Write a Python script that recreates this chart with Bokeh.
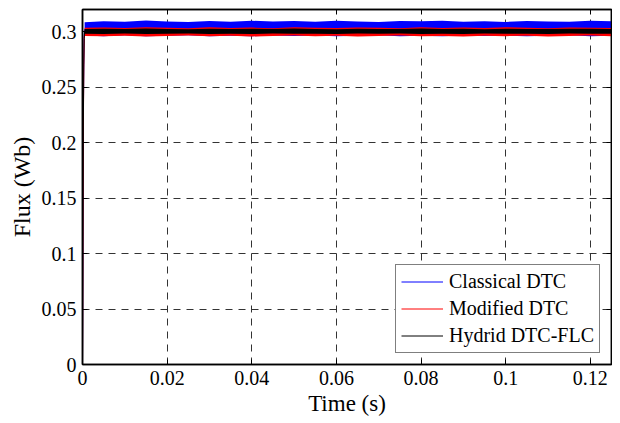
from bokeh.plotting import figure
from bokeh.models import Range1d, LinearAxis, Legend, LegendItem, FixedTicker
from bokeh.embed import file_html
from bokeh.resources import INLINE

# ---- data ----
x_ticks = [0, 0.02, 0.04, 0.06, 0.08, 0.1, 0.12]
x_tick_labels = ["0", "0.02", "0.04", "0.06", "0.08", "0.1", "0.12"]
y_ticks = [0, 0.05, 0.1, 0.15, 0.2, 0.25, 0.3]
y_tick_labels = ["0", "0.05", "0.1", "0.15", "0.2", "0.25", "0.3"]

# start-up transient
t_start = [0.0, 0.0001, 0.0002, 0.0003, 0.0004, 0.0005]
classical_start = [0.0, 0.12, 0.22, 0.27, 0.295, 0.302]
modified_start = [0.0, 0.11, 0.21, 0.268, 0.293, 0.300]
hybrid_start = [0.0, 0.115, 0.215, 0.27, 0.294, 0.300]

# steady-state ripple envelopes
t_env = [0.0005, 0.005, 0.01, 0.015, 0.02, 0.025, 0.03, 0.035, 0.04, 0.045, 0.05,
         0.055, 0.06, 0.065, 0.07, 0.075, 0.08, 0.085, 0.09, 0.095, 0.1, 0.105,
         0.11, 0.115, 0.12, 0.125]
classical_upper = [0.3085, 0.3095, 0.3090, 0.3100, 0.3092, 0.3088, 0.3097, 0.3090, 0.3099, 0.3091,
                   0.3096, 0.3089, 0.3098, 0.3092, 0.3087, 0.3096, 0.3093, 0.3099, 0.3090, 0.3095,
                   0.3088, 0.3097, 0.3092, 0.3090, 0.3099, 0.3094]
classical_lower = [0.2965, 0.2960, 0.2968, 0.2958, 0.2963, 0.2967, 0.2960, 0.2964, 0.2959, 0.2966,
                   0.2961, 0.2965, 0.2958, 0.2963, 0.2967, 0.2960, 0.2964, 0.2959, 0.2966, 0.2961,
                   0.2965, 0.2958, 0.2963, 0.2967, 0.2960, 0.2964]
modified_upper = [0.3035, 0.3038, 0.3033, 0.3040, 0.3036, 0.3032, 0.3039, 0.3034, 0.3037, 0.3031,
                  0.3040, 0.3035, 0.3033, 0.3038, 0.3036, 0.3032, 0.3039, 0.3034, 0.3037, 0.3033,
                  0.3040, 0.3035, 0.3032, 0.3038, 0.3036, 0.3034]
modified_lower = [0.2962, 0.2958, 0.2964, 0.2957, 0.2961, 0.2965, 0.2959, 0.2963, 0.2957, 0.2962,
                  0.2966, 0.2959, 0.2963, 0.2957, 0.2961, 0.2965, 0.2958, 0.2962, 0.2957, 0.2964,
                  0.2960, 0.2963, 0.2957, 0.2961, 0.2965, 0.2959]
hybrid_upper = [0.3025, 0.3027, 0.3024, 0.3028, 0.3025, 0.3023, 0.3027, 0.3025, 0.3026, 0.3024,
                0.3028, 0.3025, 0.3023, 0.3027, 0.3025, 0.3024, 0.3028, 0.3025, 0.3026, 0.3023,
                0.3027, 0.3025, 0.3024, 0.3027, 0.3026, 0.3025]
hybrid_lower = [0.2982, 0.2980, 0.2983, 0.2979, 0.2982, 0.2984, 0.2980, 0.2982, 0.2979, 0.2983,
                0.2981, 0.2982, 0.2979, 0.2983, 0.2981, 0.2984, 0.2980, 0.2982, 0.2979, 0.2983,
                0.2981, 0.2982, 0.2980, 0.2983, 0.2981, 0.2982]

names = ["Classical DTC", "Modified DTC", "Hydrid DTC-FLC"]
colors = ["#0000ff", "#ff0000", "#000000"]

FONT = "Liberation Serif"

p = figure(frame_width=529, frame_height=355, output_backend="svg", toolbar_location=None,
           x_range=Range1d(0, 0.125), y_range=Range1d(0, 0.32),
           min_border_left=82, min_border_right=1, min_border_top=9, min_border_bottom=51)
p.background_fill_color = "white"
p.border_fill_color = "white"
p.outline_line_color = "black"
p.outline_line_width = 1.5

series = [
    (t_start, classical_start, classical_lower, classical_upper),
    (t_start, modified_start, modified_lower, modified_upper),
    (t_start, hybrid_start, hybrid_lower, hybrid_upper),
]
renderers = []
for (ts, vs, lo, up), c in zip(series, colors):
    r = p.line(ts, vs, line_color=c, line_width=1)
    p.varea(x=t_env, y1=lo, y2=up, fill_color=c, fill_alpha=1.0)
    renderers.append(r)

# axes styling
for ax in [p.xaxis[0], p.yaxis[0]]:
    ax.major_tick_in = 5
    ax.major_tick_out = 0
    ax.minor_tick_in = 0
    ax.minor_tick_out = 0
    ax.axis_line_width = 1.5
    ax.major_label_text_font = FONT
    ax.major_label_text_font_size = "20px"
    ax.major_label_text_color = "black"
    ax.axis_label_text_font = FONT
    ax.axis_label_text_font_style = "normal"
    ax.axis_label_text_color = "black"

p.xaxis.axis_label_text_font_size = "23px"
p.yaxis.axis_label_text_font_size = "24px"
p.xaxis.ticker = FixedTicker(ticks=x_ticks)
p.xaxis.major_label_overrides = {t: l for t, l in zip(x_ticks, x_tick_labels)}
p.yaxis.ticker = FixedTicker(ticks=y_ticks)
p.yaxis.major_label_overrides = {t: l for t, l in zip(y_ticks, y_tick_labels)}
p.xaxis.axis_label = "Time (s)"
p.yaxis.axis_label = "Flux (Wb)"
p.xaxis.major_label_standoff = 6
p.yaxis.major_label_standoff = 6
p.xaxis.axis_label_standoff = 3
p.yaxis.axis_label_standoff = 4

# mirrored ticks on top and right
top = LinearAxis(ticker=FixedTicker(ticks=x_ticks), major_label_text_font_size="0px",
                 major_tick_in=5, major_tick_out=0, minor_tick_in=0, minor_tick_out=0,
                 axis_line_width=1.5, major_label_standoff=0, major_label_text_alpha=0)
right = LinearAxis(ticker=FixedTicker(ticks=y_ticks), major_label_text_font_size="0px",
                   major_tick_in=5, major_tick_out=0, minor_tick_in=0, minor_tick_out=0,
                   axis_line_width=1.5, major_label_standoff=0, major_label_text_alpha=0)
p.add_layout(top, "above")
p.add_layout(right, "right")

# grid
p.xgrid.ticker = FixedTicker(ticks=x_ticks)
p.ygrid.ticker = FixedTicker(ticks=y_ticks)
for g in [p.xgrid[0], p.ygrid[0]]:
    g.grid_line_color = "#333333"
    g.grid_line_dash = "7 6"
    g.grid_line_width = 1

legend = Legend(items=[LegendItem(label=n, renderers=[r]) for n, r in zip(names, renderers)],
                location=(313, 11))
legend.label_text_font = FONT
legend.label_text_font_size = "20px"
legend.label_text_color = "black"
legend.glyph_width = 42
legend.glyph_height = 21
legend.spacing = 4
legend.padding = 5
legend.margin = 0
legend.label_standoff = 6
legend.border_line_color = "black"
legend.border_line_width = 1.2
legend.background_fill_alpha = 1.0
p.add_layout(legend, "center")

open("out.html", "w").write(file_html(p, INLINE))
